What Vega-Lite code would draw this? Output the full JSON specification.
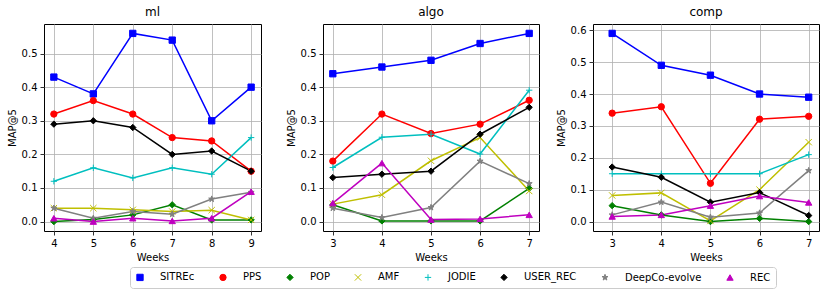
{
  "$schema": "https://vega.github.io/schema/vega-lite/v6.json",
  "background": "white",
  "padding": {"left": 6, "top": 5, "right": 5, "bottom": 5},
  "spacing": 23,
  "config": {
    "font": "DejaVu Sans",
    "view": {"stroke": "black", "strokeWidth": 1},
    "axis": {
      "domain": false,
      "grid": true,
      "gridColor": "#b0b0b0",
      "gridWidth": 0.8,
      "tickColor": "black",
      "tickSize": 4,
      "tickWidth": 0.8,
      "labelPadding": 3,
      "labelFont": "DejaVu Sans",
      "labelFontSize": 10,
      "labelColor": "black",
      "titleFont": "DejaVu Sans",
      "titleFontSize": 10,
      "titleFontWeight": "normal",
      "titleColor": "black",
      "titlePadding": 4
    },
    "title": {"font": "DejaVu Sans", "fontSize": 12, "fontWeight": "normal", "color": "black", "offset": 5}
  },
  "datasets": {
    "d": [
      {"p": "ml", "s": "SITREc", "w": 4, "v": 0.43}, {"p": "ml", "s": "SITREc", "w": 5, "v": 0.38}, {"p": "ml", "s": "SITREc", "w": 6, "v": 0.56}, {"p": "ml", "s": "SITREc", "w": 7, "v": 0.54}, {"p": "ml", "s": "SITREc", "w": 8, "v": 0.30}, {"p": "ml", "s": "SITREc", "w": 9, "v": 0.40},
      {"p": "ml", "s": "PPS", "w": 4, "v": 0.32}, {"p": "ml", "s": "PPS", "w": 5, "v": 0.36}, {"p": "ml", "s": "PPS", "w": 6, "v": 0.32}, {"p": "ml", "s": "PPS", "w": 7, "v": 0.25}, {"p": "ml", "s": "PPS", "w": 8, "v": 0.24}, {"p": "ml", "s": "PPS", "w": 9, "v": 0.15},
      {"p": "ml", "s": "POP", "w": 4, "v": 0.0}, {"p": "ml", "s": "POP", "w": 5, "v": 0.006}, {"p": "ml", "s": "POP", "w": 6, "v": 0.02}, {"p": "ml", "s": "POP", "w": 7, "v": 0.05}, {"p": "ml", "s": "POP", "w": 8, "v": 0.005}, {"p": "ml", "s": "POP", "w": 9, "v": 0.005},
      {"p": "ml", "s": "AMF", "w": 4, "v": 0.04}, {"p": "ml", "s": "AMF", "w": 5, "v": 0.04}, {"p": "ml", "s": "AMF", "w": 6, "v": 0.035}, {"p": "ml", "s": "AMF", "w": 7, "v": 0.03}, {"p": "ml", "s": "AMF", "w": 8, "v": 0.034}, {"p": "ml", "s": "AMF", "w": 9, "v": 0.005},
      {"p": "ml", "s": "JODIE", "w": 4, "v": 0.12}, {"p": "ml", "s": "JODIE", "w": 5, "v": 0.16}, {"p": "ml", "s": "JODIE", "w": 6, "v": 0.13}, {"p": "ml", "s": "JODIE", "w": 7, "v": 0.16}, {"p": "ml", "s": "JODIE", "w": 8, "v": 0.141}, {"p": "ml", "s": "JODIE", "w": 9, "v": 0.25},
      {"p": "ml", "s": "USER_REC", "w": 4, "v": 0.29}, {"p": "ml", "s": "USER_REC", "w": 5, "v": 0.30}, {"p": "ml", "s": "USER_REC", "w": 6, "v": 0.28}, {"p": "ml", "s": "USER_REC", "w": 7, "v": 0.20}, {"p": "ml", "s": "USER_REC", "w": 8, "v": 0.21}, {"p": "ml", "s": "USER_REC", "w": 9, "v": 0.15},
      {"p": "ml", "s": "DeepCo-evolve", "w": 4, "v": 0.04}, {"p": "ml", "s": "DeepCo-evolve", "w": 5, "v": 0.01}, {"p": "ml", "s": "DeepCo-evolve", "w": 6, "v": 0.03}, {"p": "ml", "s": "DeepCo-evolve", "w": 7, "v": 0.022}, {"p": "ml", "s": "DeepCo-evolve", "w": 8, "v": 0.067}, {"p": "ml", "s": "DeepCo-evolve", "w": 9, "v": 0.087},
      {"p": "ml", "s": "REC", "w": 4, "v": 0.01}, {"p": "ml", "s": "REC", "w": 5, "v": 0.0}, {"p": "ml", "s": "REC", "w": 6, "v": 0.01}, {"p": "ml", "s": "REC", "w": 7, "v": 0.002}, {"p": "ml", "s": "REC", "w": 8, "v": 0.01}, {"p": "ml", "s": "REC", "w": 9, "v": 0.089},

      {"p": "algo", "s": "SITREc", "w": 3, "v": 0.44}, {"p": "algo", "s": "SITREc", "w": 4, "v": 0.46}, {"p": "algo", "s": "SITREc", "w": 5, "v": 0.48}, {"p": "algo", "s": "SITREc", "w": 6, "v": 0.53}, {"p": "algo", "s": "SITREc", "w": 7, "v": 0.56},
      {"p": "algo", "s": "PPS", "w": 3, "v": 0.18}, {"p": "algo", "s": "PPS", "w": 4, "v": 0.32}, {"p": "algo", "s": "PPS", "w": 5, "v": 0.262}, {"p": "algo", "s": "PPS", "w": 6, "v": 0.29}, {"p": "algo", "s": "PPS", "w": 7, "v": 0.361},
      {"p": "algo", "s": "POP", "w": 3, "v": 0.05}, {"p": "algo", "s": "POP", "w": 4, "v": 0.002}, {"p": "algo", "s": "POP", "w": 5, "v": 0.002}, {"p": "algo", "s": "POP", "w": 6, "v": 0.002}, {"p": "algo", "s": "POP", "w": 7, "v": 0.099},
      {"p": "algo", "s": "AMF", "w": 3, "v": 0.052}, {"p": "algo", "s": "AMF", "w": 4, "v": 0.08}, {"p": "algo", "s": "AMF", "w": 5, "v": 0.181}, {"p": "algo", "s": "AMF", "w": 6, "v": 0.25}, {"p": "algo", "s": "AMF", "w": 7, "v": 0.091},
      {"p": "algo", "s": "JODIE", "w": 3, "v": 0.161}, {"p": "algo", "s": "JODIE", "w": 4, "v": 0.251}, {"p": "algo", "s": "JODIE", "w": 5, "v": 0.26}, {"p": "algo", "s": "JODIE", "w": 6, "v": 0.201}, {"p": "algo", "s": "JODIE", "w": 7, "v": 0.391},
      {"p": "algo", "s": "USER_REC", "w": 3, "v": 0.131}, {"p": "algo", "s": "USER_REC", "w": 4, "v": 0.141}, {"p": "algo", "s": "USER_REC", "w": 5, "v": 0.15}, {"p": "algo", "s": "USER_REC", "w": 6, "v": 0.26}, {"p": "algo", "s": "USER_REC", "w": 7, "v": 0.34},
      {"p": "algo", "s": "DeepCo-evolve", "w": 3, "v": 0.04}, {"p": "algo", "s": "DeepCo-evolve", "w": 4, "v": 0.012}, {"p": "algo", "s": "DeepCo-evolve", "w": 5, "v": 0.042}, {"p": "algo", "s": "DeepCo-evolve", "w": 6, "v": 0.18}, {"p": "algo", "s": "DeepCo-evolve", "w": 7, "v": 0.113},
      {"p": "algo", "s": "REC", "w": 3, "v": 0.055}, {"p": "algo", "s": "REC", "w": 4, "v": 0.174}, {"p": "algo", "s": "REC", "w": 5, "v": 0.006}, {"p": "algo", "s": "REC", "w": 6, "v": 0.008}, {"p": "algo", "s": "REC", "w": 7, "v": 0.02},

      {"p": "comp", "s": "SITREc", "w": 3, "v": 0.59}, {"p": "comp", "s": "SITREc", "w": 4, "v": 0.49}, {"p": "comp", "s": "SITREc", "w": 5, "v": 0.459}, {"p": "comp", "s": "SITREc", "w": 6, "v": 0.40}, {"p": "comp", "s": "SITREc", "w": 7, "v": 0.39},
      {"p": "comp", "s": "PPS", "w": 3, "v": 0.34}, {"p": "comp", "s": "PPS", "w": 4, "v": 0.36}, {"p": "comp", "s": "PPS", "w": 5, "v": 0.12}, {"p": "comp", "s": "PPS", "w": 6, "v": 0.321}, {"p": "comp", "s": "PPS", "w": 7, "v": 0.33},
      {"p": "comp", "s": "POP", "w": 3, "v": 0.05}, {"p": "comp", "s": "POP", "w": 4, "v": 0.021}, {"p": "comp", "s": "POP", "w": 5, "v": 0.0}, {"p": "comp", "s": "POP", "w": 6, "v": 0.01}, {"p": "comp", "s": "POP", "w": 7, "v": 0.0},
      {"p": "comp", "s": "AMF", "w": 3, "v": 0.082}, {"p": "comp", "s": "AMF", "w": 4, "v": 0.09}, {"p": "comp", "s": "AMF", "w": 5, "v": 0.002}, {"p": "comp", "s": "AMF", "w": 6, "v": 0.10}, {"p": "comp", "s": "AMF", "w": 7, "v": 0.249},
      {"p": "comp", "s": "JODIE", "w": 3, "v": 0.15}, {"p": "comp", "s": "JODIE", "w": 4, "v": 0.15}, {"p": "comp", "s": "JODIE", "w": 5, "v": 0.15}, {"p": "comp", "s": "JODIE", "w": 6, "v": 0.15}, {"p": "comp", "s": "JODIE", "w": 7, "v": 0.21},
      {"p": "comp", "s": "USER_REC", "w": 3, "v": 0.171}, {"p": "comp", "s": "USER_REC", "w": 4, "v": 0.139}, {"p": "comp", "s": "USER_REC", "w": 5, "v": 0.061}, {"p": "comp", "s": "USER_REC", "w": 6, "v": 0.091}, {"p": "comp", "s": "USER_REC", "w": 7, "v": 0.019},
      {"p": "comp", "s": "DeepCo-evolve", "w": 3, "v": 0.021}, {"p": "comp", "s": "DeepCo-evolve", "w": 4, "v": 0.061}, {"p": "comp", "s": "DeepCo-evolve", "w": 5, "v": 0.014}, {"p": "comp", "s": "DeepCo-evolve", "w": 6, "v": 0.027}, {"p": "comp", "s": "DeepCo-evolve", "w": 7, "v": 0.16},
      {"p": "comp", "s": "REC", "w": 3, "v": 0.016}, {"p": "comp", "s": "REC", "w": 4, "v": 0.021}, {"p": "comp", "s": "REC", "w": 5, "v": 0.05}, {"p": "comp", "s": "REC", "w": 6, "v": 0.08}, {"p": "comp", "s": "REC", "w": 7, "v": 0.06}
    ]
  },
  "hconcat": [
    {
      "title": "ml",
      "width": 217, "height": 207,
      "data": {"name": "d"},
      "transform": [{"filter": "datum.p === 'ml'"}],
      "encoding": {
        "x": {"field": "w", "type": "quantitative", "scale": {"domain": [3.75, 9.25], "nice": false, "zero": false}, "axis": {"values": [4, 5, 6, 7, 8, 9], "format": "d", "title": "Weeks"}},
        "y": {"field": "v", "type": "quantitative", "scale": {"domain": [-0.028, 0.588], "nice": false, "zero": false}, "axis": {"values": [0, 0.1, 0.2, 0.3, 0.4, 0.5], "format": ".1f", "title": "MAP@5"}},
        "color": {"field": "s", "type": "nominal",
          "scale": {"domain": ["SITREc", "PPS", "POP", "AMF", "JODIE", "USER_REC", "DeepCo-evolve", "REC"], "range": ["#0000ff", "#ff0000", "#008000", "#bfbf00", "#00bfbf", "#000000", "#808080", "#bf00bf"]},
          "legend": {"orient": "none", "legendX": 86, "legendY": 243, "direction": "horizontal", "columns": 8, "title": null, "strokeColor": "#cccccc", "cornerRadius": 3, "padding": 5, "symbolSize": 40, "symbolStrokeWidth": 1, "labelFontSize": 10, "labelFont": "DejaVu Sans", "labelColor": "black", "labelOffset": 15, "columnPadding": 22}}
      },
      "layer": [
        {"mark": {"type": "line", "strokeWidth": 1.5}},
        {"mark": {"type": "point", "filled": true, "opacity": 1, "size": 40, "strokeWidth": 1},
          "encoding": {
            "shape": {"field": "s", "type": "nominal", "scale": {"domain": ["SITREc", "PPS", "POP", "AMF", "JODIE", "USER_REC", "DeepCo-evolve", "REC"], "range": ["square", "circle", "diamond", "M-1,-1L1,1M1,-1L-1,1", "M-1,0L1,0M0,-1L0,1", "diamond", "M0,-1L0.223,-0.307L0.951,-0.309L0.361,0.117L0.588,0.809L0,0.38L-0.588,0.809L-0.361,0.117L-0.951,-0.309L-0.223,-0.307Z", "triangle-up"]}},
            "stroke": {"field": "s", "type": "nominal", "scale": {"domain": ["SITREc", "PPS", "POP", "AMF", "JODIE", "USER_REC", "DeepCo-evolve", "REC"], "range": ["#0000ff", "#ff0000", "#008000", "#bfbf00", "#00bfbf", "#000000", "#808080", "#bf00bf"]}}
          }}
      ]
    },
    {
      "spacing": 15,
      "resolve": {"scale": {"x": "independent", "y": "independent"}},
      "hconcat": [
        {
          "title": "algo",
          "width": 216, "height": 207,
          "data": {"name": "d"},
          "transform": [{"filter": "datum.p === 'algo'"}],
          "encoding": {
            "x": {"field": "w", "type": "quantitative", "scale": {"domain": [2.8, 7.2], "nice": false, "zero": false}, "axis": {"values": [3, 4, 5, 6, 7], "format": "d", "title": "Weeks"}},
            "y": {"field": "v", "type": "quantitative", "scale": {"domain": [-0.028, 0.588], "nice": false, "zero": false}, "axis": {"values": [0, 0.1, 0.2, 0.3, 0.4, 0.5], "format": ".1f", "title": "MAP@5"}},
            "color": {"field": "s", "type": "nominal"}
          },
          "layer": [
            {"mark": {"type": "line", "strokeWidth": 1.5}},
            {"mark": {"type": "point", "filled": true, "opacity": 1, "size": 40, "strokeWidth": 1},
              "encoding": {
                "shape": {"field": "s", "type": "nominal"},
                "stroke": {"field": "s", "type": "nominal"}
              }}
          ]
        },
        {
          "title": "comp",
          "width": 226, "height": 207,
          "data": {"name": "d"},
          "transform": [{"filter": "datum.p === 'comp'"}],
          "encoding": {
            "x": {"field": "w", "type": "quantitative", "scale": {"domain": [2.61, 7.21], "nice": false, "zero": false}, "axis": {"values": [3, 4, 5, 6, 7], "format": "d", "title": "Weeks"}},
            "y": {"field": "v", "type": "quantitative", "scale": {"domain": [-0.0295, 0.6195], "nice": false, "zero": false}, "axis": {"values": [0, 0.1, 0.2, 0.3, 0.4, 0.5, 0.6], "format": ".1f", "title": "MAP@5"}},
            "color": {"field": "s", "type": "nominal"}
          },
          "layer": [
            {"mark": {"type": "line", "strokeWidth": 1.5}},
            {"mark": {"type": "point", "filled": true, "opacity": 1, "size": 40, "strokeWidth": 1},
              "encoding": {
                "shape": {"field": "s", "type": "nominal"},
                "stroke": {"field": "s", "type": "nominal"}
              }}
          ]
        }
      ]
    }
  ],
  "resolve": {"scale": {"x": "independent", "y": "independent"}}
}
